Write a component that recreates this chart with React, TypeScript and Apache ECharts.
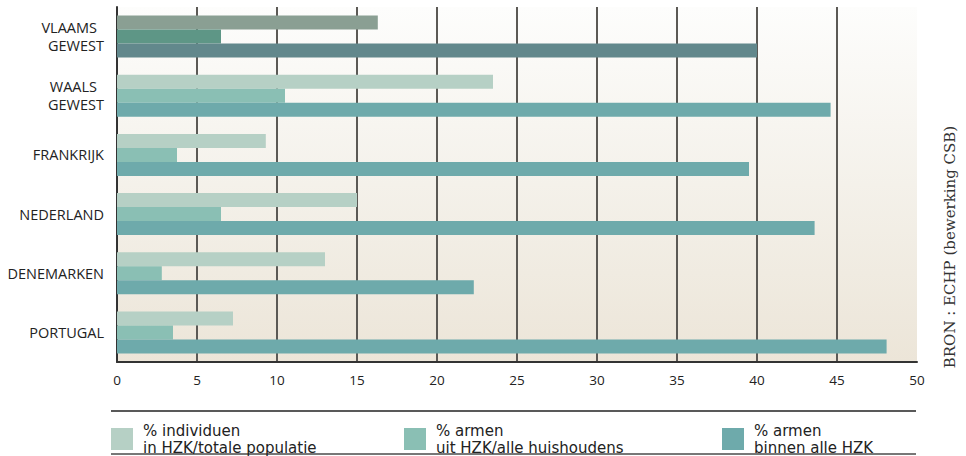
import React, { useEffect, useRef } from "react";
import * as echarts from "echarts";

const categories = ["VLAAMS\nGEWEST", "WAALS\nGEWEST", "FRANKRIJK", "NEDERLAND", "DENEMARKEN", "PORTUGAL"];
const seriesNames = [
  "% individuen\nin HZK/totale populatie",
  "% armen\nuit HZK/alle huishoudens",
  "% armen\nbinnen alle HZK",
];
const individuen = [16.3, 23.5, 9.3, 15.0, 13.0, 7.25];
const armenUit = [6.5, 10.5, 3.75, 6.5, 2.8, 3.5];
const armenBinnen = [40.0, 44.6, 39.5, 43.6, 22.3, 48.1];
const xTicks = [0, 5, 10, 15, 20, 25, 30, 35, 40, 45, 50];
const sourceText = "BRON : ECHP (bewerking CSB)";

const baseColors = ["#b6d0c5", "#8abfb4", "#6eaaab"];
const highlightColors = ["#8a9f93", "#5e9686", "#62888c"];

const FONT = "'Open Sans', 'Liberation Sans', sans-serif";
const LEGEND_FONT = "'DejaVu Sans', 'Open Sans', sans-serif";

export default function App() {
  const ref = useRef<HTMLDivElement>(null);
  useEffect(() => {
    if (!ref.current) return;
    const chart = echarts.init(ref.current, undefined, { renderer: "svg" });
    const allData = [individuen, armenUit, armenBinnen];
    const series = allData.map((arr, si) => ({
      type: "bar",
      name: seriesNames[si],
      barWidth: 14,
      barGap: "0%",
      itemStyle: { color: baseColors[si] },
      data: arr.map((v, i) =>
        i === 0 ? { value: v, itemStyle: { color: highlightColors[si] } } : v
      ),
    }));
    const legendLefts = [111, 404, 722];
    chart.setOption({
      animation: false,
      grid: {
        left: 117,
        right: 49,
        top: 7,
        height: 355,
        show: true,
        borderWidth: 0,
        backgroundColor: new echarts.graphic.LinearGradient(0, 0, 0, 1, [
          { offset: 0, color: "#fdfdfc" },
          { offset: 0.5, color: "#f4f1ea" },
          { offset: 1, color: "#ece5d8" },
        ]),
      },
      xAxis: {
        type: "value",
        min: 0,
        max: 50,
        interval: 5,
        axisLine: { show: true, lineStyle: { color: "#333", width: 2 } },
        axisTick: { show: false },
        axisLabel: {
          margin: 11,
          color: "#222",
          fontSize: 13.5,
          fontFamily: FONT,
          formatter: (v: number) => (xTicks.includes(v) ? String(v) : ""),
        },
        splitLine: {
          show: true,
          lineStyle: {
            width: 2,
            color: xTicks.map((t) => (t === 50 ? "rgba(0,0,0,0)" : "#5b5955")),
          },
        },
      },
      yAxis: {
        type: "category",
        inverse: true,
        data: categories,
        axisLine: { show: true, lineStyle: { color: "#333", width: 2 } },
        axisTick: { show: false },
        axisLabel: {
          margin: 13,
          color: "#222",
          fontSize: 14.5,
          fontFamily: FONT,
          lineHeight: 18,
          formatter: (v: string) => {
            const parts = v.split("\n");
            if (parts.length === 2) return `{a|${parts[0]}}\n{b|${parts[1]}}`;
            return v;
          },
          rich: {
            a: { padding: [0, 7, 0, 0], fontSize: 14.5, fontFamily: FONT, color: "#222", lineHeight: 18 },
            b: { fontSize: 14.5, fontFamily: FONT, color: "#222", lineHeight: 18 },
          },
        },
      },
      legend: seriesNames.map((n, i) => ({
        data: [n],
        left: legendLefts[i],
        top: 422,
        icon: "rect",
        itemWidth: 22,
        itemHeight: 22,
        selectedMode: false,
        padding: 0,
        textStyle: {
          color: "#222",
          fontSize: 15,
          fontFamily: LEGEND_FONT,
          lineHeight: 17,
          padding: [0, 0, 0, 5],
        },
      })),
      graphic: [
        { type: "line", shape: { x1: 111, y1: 411, x2: 916, y2: 411 }, style: { stroke: "#222", lineWidth: 1.5 } },
        { type: "line", shape: { x1: 111, y1: 454, x2: 916, y2: 454 }, style: { stroke: "#777", lineWidth: 2 } },
        {
          type: "text",
          x: 950,
          y: 247,
          rotation: Math.PI / 2,
          style: {
            text: sourceText,
            fill: "#333",
            font: "15px 'DejaVu Serif', serif",
            textAlign: "center",
            textVerticalAlign: "middle",
          },
        },
      ],
      series,
    });
    return () => chart.dispose();
  }, []);
  return <div ref={ref} style={{ width: 966, height: 456, position: "absolute", left: 0, top: 0 }} />;
}
